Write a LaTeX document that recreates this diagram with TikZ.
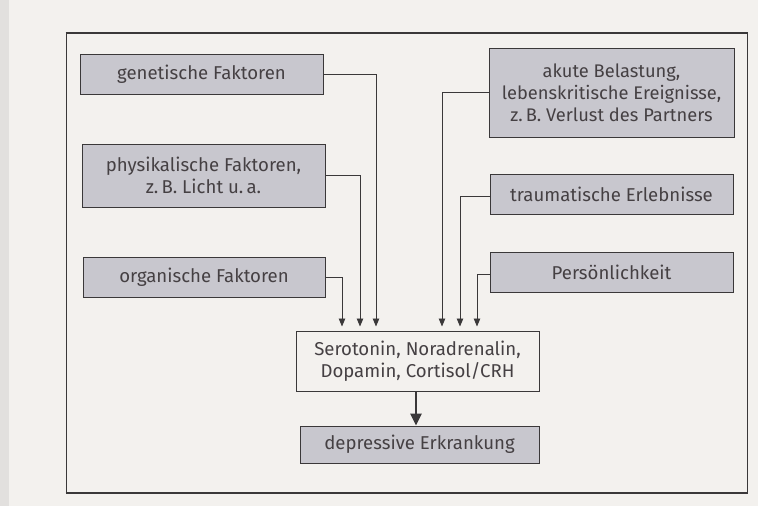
\documentclass[tikz,border=0pt]{standalone}
\usepackage{fontspec}
\setmainfont{Fira Sans}
\usetikzlibrary{arrows.meta}
\definecolor{paper}{HTML}{F3F1EE}
\definecolor{strip}{HTML}{E2E0DE}
\definecolor{boxgray}{HTML}{C8C7CE}
\definecolor{ink}{HTML}{454043}
\definecolor{frame}{HTML}{3A3839}
\tikzset{
  factor/.style={draw=frame, line width=1pt, fill=boxgray, text=ink, align=center,
    font=\fontsize{18.6}{22}\selectfont, inner sep=0pt},
  whitebox/.style={draw=frame, line width=1pt, fill=paper, text=ink, align=center,
    font=\fontsize{18.6}{22.5}\selectfont, inner sep=0pt},
  link/.style={draw=frame, line width=0.9pt, -{Triangle[length=8pt,width=6.5pt]}, shorten >=4pt},
  bigarrow/.style={draw=frame, line width=2.6pt, -{Triangle[length=12pt,width=11pt]}},
}
\begin{document}
\begin{tikzpicture}[x=1pt,y=-1pt]
\useasboundingbox (0,0) rectangle (758,506);
\fill[paper] (0,0) rectangle (758,506);
\fill[strip] (0,0) rectangle (9,506);
% frame
\draw[frame, line width=1pt] (66,33) -- (66,493);
\draw[frame, line width=1pt] (747,33) -- (747,493);
\draw[frame, line width=1.8pt] (65.5,33) -- (747.5,33);
\draw[frame, line width=1.8pt] (65.5,493) -- (747.5,493);
% boxes
\node[factor, minimum width=243pt, minimum height=40pt] (gen) at (201.5,74) {genetische Faktoren};
\node[factor, minimum width=243pt, minimum height=63pt] (phys) at (203.5,175.5) {physikalische Faktoren,\\z.\,B. Licht u.\,a.};
\node[factor, minimum width=242pt, minimum height=40pt] (org) at (204,277) {organische Faktoren};
\node[factor, minimum width=245pt, minimum height=89pt, font=\fontsize{18.3}{22}\selectfont] (akut) at (611.5,92.5) {akute Belastung,\\lebenskritische Ereignisse,\\z.\,B. Verlust des Partners};
\node[factor, minimum width=243pt, minimum height=40pt] (trauma) at (611.5,194) {traumatische Erlebnisse};
\node[factor, minimum width=243pt, minimum height=40pt] (pers) at (611.5,272) {Persönlichkeit};
\node[whitebox, minimum width=243pt, minimum height=60pt] (sero) at (417.5,361) {Serotonin, Noradrenalin,\\Dopamin, Cortisol/CRH};
\node[factor, minimum width=239pt, minimum height=37pt] (dep) at (419.5,444.5) {depressive Erkrankung};
% connectors
\draw[link] (gen.east) -| ([xshift=-41.5pt]sero.north);
\draw[link] (phys.east) -| ([xshift=-57.5pt]sero.north);
\draw[link] (org.east) -| ([xshift=-75.5pt]sero.north);
\draw[link] (akut.west) -| ([xshift=24.5pt]sero.north);
\draw[link] ([yshift=-2pt]trauma.west) -| ([xshift=42.5pt]sero.north);
\draw[link] ([yshift=-2pt]pers.west) -| ([xshift=59.5pt]sero.north);
\draw[bigarrow] ([xshift=-1.5pt]sero.south) -- ([xshift=-3.5pt]dep.north);
\end{tikzpicture}
\end{document}
